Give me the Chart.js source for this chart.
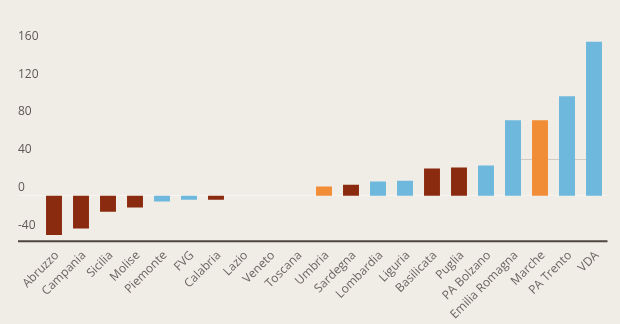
<!DOCTYPE html>
<html>
<head>
<meta charset="utf-8">
<script src="https://cdn.jsdelivr.net/npm/chart.js@4.4.1/dist/chart.umd.min.js"></script>
<style>
  html, body { margin: 0; padding: 0; background: #f0ede6; }
  #wrap { width: 620px; height: 324px; position: relative; }
</style>
</head>
<body>
<div id="wrap"><canvas id="c"></canvas></div>
<script>
// Regions, ordered by value
const regions = ['Abruzzo', 'Campania', 'Sicilia', 'Molise', 'Piemonte', 'FVG', 'Calabria', 'Lazio',
  'Veneto', 'Toscana', 'Umbria', 'Sardegna', 'Lombardia', 'Liguria', 'Basilicata', 'Puglia',
  'PA Bolzano', 'Emilia Romagna', 'Marche', 'PA Trento', 'VDA'];
const values = [-41.5, -34.7, -17, -12.4, -6, -4.2, -4.2, 0,
  0, 0, 9.6, 11.7, 14.9, 15.9, 28.7, 29.7,
  31.9, 79.7, 79.7, 105, 162.5];
// Group of each region (0, 1 or 2)
const groups = [0, 0, 0, 0, 1, 1, 0, 1,
  1, 1, 2, 0, 1, 1, 0, 0,
  1, 1, 2, 1, 1];
const yTicks = [-40, 0, 40, 80, 120, 160];

const palette = ['#8a2a0e', '#6db8dc', '#f28d37'];

const decor = {
  id: 'decor',
  beforeDatasetsDraw(chart) {
    const { ctx, scales: { x, y }, chartArea } = chart;
    ctx.save();
    // faint zero line
    ctx.strokeStyle = '#f7f5f1';
    ctx.lineWidth = 1;
    const y0 = Math.round(y.getPixelForValue(0)) - 0.5;
    ctx.beginPath();
    ctx.moveTo(y.left, y0);
    ctx.lineTo(chartArea.right, y0);
    ctx.stroke();
    // reference segment behind the last bars
    ctx.strokeStyle = '#cfcac3';
    const yr = Math.round(y.getPixelForValue(39)) + 0.5;
    ctx.beginPath();
    ctx.moveTo(x.getPixelForValue(17), yr);
    ctx.lineTo(x.getPixelForValue(20), yr);
    ctx.stroke();
    ctx.restore();
  },
  afterDatasetsDraw(chart) {
    const { ctx, scales: { y }, chartArea } = chart;
    ctx.save();
    ctx.strokeStyle = '#4f4541';
    ctx.lineWidth = 2;
    ctx.beginPath();
    ctx.moveTo(y.left, chartArea.bottom);
    ctx.lineTo(chartArea.right, chartArea.bottom);
    ctx.stroke();
    ctx.restore();
  }
};

new Chart(document.getElementById('c'), {
  type: 'bar',
  data: {
    labels: regions,
    datasets: [{
      data: values,
      backgroundColor: groups.map(g => palette[g]),
      borderWidth: 0,
      barPercentage: 0.59,
      categoryPercentage: 1.0
    }]
  },
  options: {
    responsive: true,
    maintainAspectRatio: false,
    animation: false,
    layout: { padding: { left: 18, right: 12.5, top: 30, bottom: 3 } },
    plugins: { legend: { display: false }, tooltip: { enabled: false } },
    scales: {
      x: {
        afterFit(scale) { scale.paddingLeft = 0; scale.paddingRight = 0; },
        grid: { display: false },
        border: { display: false },
        ticks: {
          color: '#6b6460',
          font: { family: 'Open Sans', size: 12, lineHeight: 1.0 },
          minRotation: 45,
          maxRotation: 45,
          autoSkip: false,
          labelOffset: 3,
          padding: 0
        }
      },
      y: {
        min: -48,
        max: 175,
        afterBuildTicks(scale) { scale.ticks = yTicks.map(v => ({ value: v })); },
        afterFit(scale) { scale.width = 22.5; },
        grid: { display: false, drawTicks: false },
        border: { display: false },
        ticks: {
          color: '#5e5754',
          font: { family: 'Open Sans', size: 12 },
          crossAlign: 'far',
          labelOffset: -8,
          padding: 0
        }
      }
    }
  },
  plugins: [decor]
});
</script>
</body>
</html>
